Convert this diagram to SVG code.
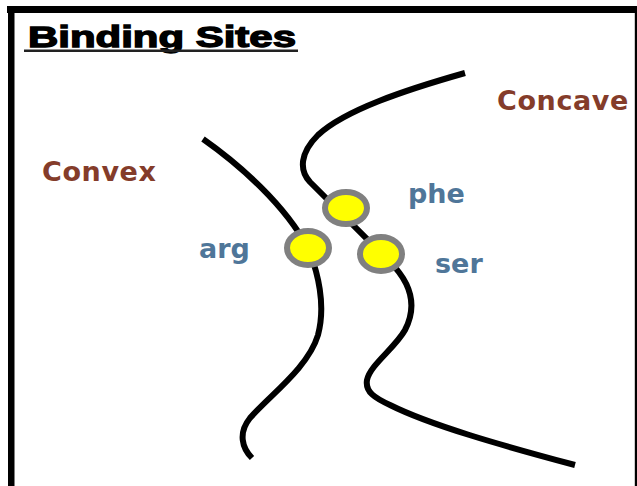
<svg xmlns="http://www.w3.org/2000/svg" width="637" height="486" viewBox="0 0 637 486">
<style>
.curve{fill:none;stroke:#000;stroke-width:6;stroke-linecap:butt;stroke-linejoin:round}
.site{fill:#FFFF00;stroke:#808080;stroke-width:6}
.side{font-family:"DejaVu Sans",Verdana,sans-serif;font-weight:bold;font-size:27px;fill:#843C2A;letter-spacing:0.6px}
.res{font-family:"DejaVu Sans",Verdana,sans-serif;font-weight:bold;font-size:27px;fill:#4F7699}
.title{font-family:"Liberation Sans",Arial,sans-serif;font-weight:bold;font-size:29px;fill:#000;stroke:#000;stroke-width:1.3}
</style>
<rect x="0" y="0" width="637" height="486" fill="#fff"/>
<g id="frame">
<rect x="7" y="6" width="630" height="7" fill="#000"/>
<rect x="8" y="6" width="6.5" height="480" fill="#000"/>
<rect x="634.8" y="6" width="2.2" height="480" fill="#000"/>
</g>
<g id="title">
<text class="title" x="28" y="47" textLength="268" lengthAdjust="spacingAndGlyphs">Binding Sites</text>
<rect x="24" y="49.5" width="274" height="2.5" fill="#222"/>
</g>
<g id="connectors">
<path id="convex-surface" class="curve" d="M203,139 C240,165 285,205 308,248 C318,272 326,305 318,335 C308,368 270,395 250,418 C238,433 242,448 252,458"/>
<path id="concave-surface" class="curve" d="M465,73 C405,90 345,110 318,135 C300,153 299,170 310,182 L390,262 C410,282 418,305 405,330 C395,348 370,365 367,380 C365,392 375,398 390,405 C430,425 500,445 575,465"/>
</g>
<g id="label-convex"><text class="side" x="42" y="180.5">Convex</text></g>
<g id="label-concave"><text class="side" x="497" y="110">Concave</text></g>
<g id="site-arg">
<ellipse class="site" cx="308" cy="248" rx="21" ry="17"/>
<text class="res" x="199" y="257.5">arg</text>
</g>
<g id="site-phe">
<ellipse class="site" cx="346" cy="208" rx="21" ry="16"/>
<text class="res" x="408" y="203">phe</text>
</g>
<g id="site-ser">
<ellipse class="site" cx="381" cy="254" rx="21" ry="17"/>
<text class="res" x="435" y="272.5">ser</text>
</g>
</svg>
